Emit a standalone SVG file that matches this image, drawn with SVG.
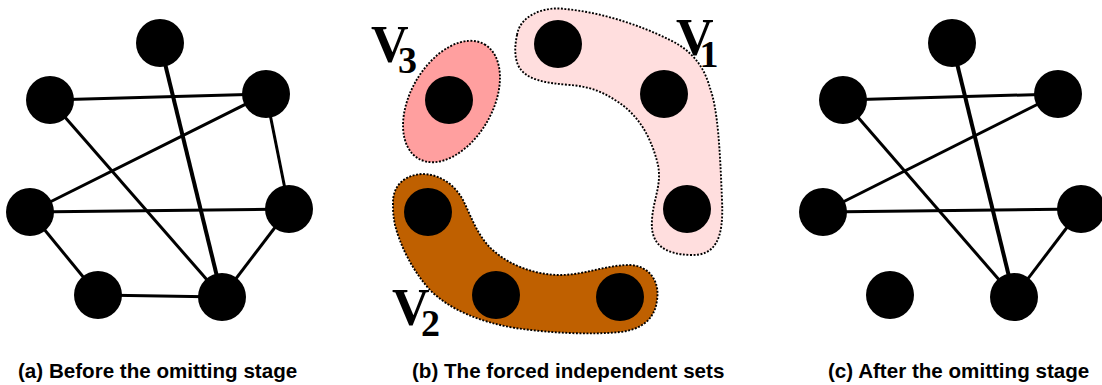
<svg xmlns="http://www.w3.org/2000/svg" width="1102" height="385" viewBox="0 0 1102 385">
<style>
.node{fill:#000}
.edge{stroke:#000;stroke-width:3;fill:none}
.thick{stroke-width:4}
.blob{stroke:#000;stroke-width:1.9;stroke-dasharray:1.9 1.6}
.cap{font-family:"Liberation Sans",Arial,sans-serif;font-weight:bold;font-size:20.6px;fill:#000}
.lbl{font-family:"Liberation Serif","Times New Roman",serif;font-weight:bold;fill:#000;font-size:52px}
.v{letter-spacing:-14px}
.sub{font-size:38px}
</style>
<rect width="1102" height="385" fill="#fff"/>

<!-- (a) -->
<g id="a-edges">
<line class="edge" x1="50" y1="100" x2="266" y2="94"/>
<line class="edge" x1="50" y1="100" x2="222" y2="297"/>
<line class="edge thick" x1="160" y1="43" x2="222" y2="297"/>
<line class="edge" x1="266" y1="94" x2="30" y2="212"/>
<line class="edge" x1="266" y1="94" x2="289" y2="209"/>
<line class="edge" x1="30" y1="212" x2="289" y2="209"/>
<line class="edge" x1="30" y1="212" x2="98" y2="295"/>
<line class="edge" x1="98" y1="295" x2="222" y2="297"/>
<line class="edge" x1="289" y1="209" x2="222" y2="297"/>
</g>
<g id="a-top"><circle class="node" cx="160" cy="43" r="24"/></g>
<g id="a-ul"><circle class="node" cx="50" cy="100" r="24"/></g>
<g id="a-ur"><circle class="node" cx="266" cy="94" r="24"/></g>
<g id="a-l"><circle class="node" cx="30" cy="212" r="24"/></g>
<g id="a-r"><circle class="node" cx="289" cy="209" r="24"/></g>
<g id="a-bl"><circle class="node" cx="98" cy="295" r="24"/></g>
<g id="a-br"><circle class="node" cx="222" cy="297" r="24"/></g>
<text class="cap" x="18" y="378">(a) Before the omitting stage</text>

<!-- (b) -->
<g id="set-v1">
<path class="blob" fill="#ffdede" d="M517,35 C520,15 545,6 565,9 C600,12 640,25 670,40 C695,52 705,70 710,88 C718,110 720,150 722,200 C724,240 715,256 690,255 C665,254 650,245 652,220 C653,200 662,185 658,165 C652,140 640,115 615,100 C600,90 585,86 570,85 C545,83 525,80 518,65 C514,55 515,45 517,35 Z"/>
<text class="lbl" x="676" y="55"><tspan class="v">V</tspan><tspan class="sub" dy="12">1</tspan></text>
</g>
<g id="set-v2">
<path class="blob" fill="#bf6000" d="M393,205 C392,185 405,175 422,174 C440,174 455,185 463,200 C472,218 478,238 495,252 C510,265 535,275 560,275 C585,275 605,265 630,265 C650,266 660,282 657,300 C655,320 640,330 620,332 C590,335 550,333 515,328 C480,322 450,310 430,290 C412,270 400,245 395,225 C393,215 393,210 393,205 Z"/>
<text class="lbl" x="392" y="325"><tspan class="v" style="letter-spacing:-8.5px">V</tspan><tspan class="sub" dy="11">2</tspan></text>
</g>
<g id="set-v3">
<ellipse class="blob" fill="#ff9f9f" cx="451.5" cy="101.5" rx="66" ry="41" transform="rotate(-60 451.5 101.5)"/>
<text class="lbl" x="371" y="62"><tspan class="v" style="letter-spacing:-10.5px">V</tspan><tspan class="sub" dy="11">3</tspan></text>
</g>
<g id="b-v1a"><circle class="node" cx="558" cy="44" r="24"/></g>
<g id="b-v1b"><circle class="node" cx="664" cy="94" r="24"/></g>
<g id="b-v1c"><circle class="node" cx="687" cy="209" r="24"/></g>
<g id="b-v3"><circle class="node" cx="449" cy="100" r="24"/></g>
<g id="b-v2a"><circle class="node" cx="428" cy="212" r="24"/></g>
<g id="b-v2b"><circle class="node" cx="496" cy="295" r="24"/></g>
<g id="b-v2c"><circle class="node" cx="620" cy="297" r="24"/></g>
<text class="cap" x="412" y="378">(b) The forced independent sets</text>

<!-- (c) -->
<g id="c-edges">
<line class="edge" x1="843" y1="100" x2="1058" y2="94"/>
<line class="edge" x1="843" y1="100" x2="1014" y2="297"/>
<line class="edge thick" x1="952" y1="43" x2="1014" y2="297"/>
<line class="edge" x1="1058" y1="94" x2="823" y2="212"/>
<line class="edge" x1="823" y1="212" x2="1081" y2="209"/>
<line class="edge" x1="1081" y1="209" x2="1014" y2="297"/>
</g>
<g id="c-top"><circle class="node" cx="952" cy="43" r="24"/></g>
<g id="c-ul"><circle class="node" cx="843" cy="100" r="24"/></g>
<g id="c-ur"><circle class="node" cx="1058" cy="94" r="24"/></g>
<g id="c-l"><circle class="node" cx="823" cy="212" r="24"/></g>
<g id="c-r"><circle class="node" cx="1081" cy="209" r="24"/></g>
<g id="c-bl"><circle class="node" cx="890" cy="295" r="24"/></g>
<g id="c-br"><circle class="node" cx="1014" cy="297" r="24"/></g>
<text class="cap" x="828" y="378">(c) After the omitting stage</text>
</svg>
